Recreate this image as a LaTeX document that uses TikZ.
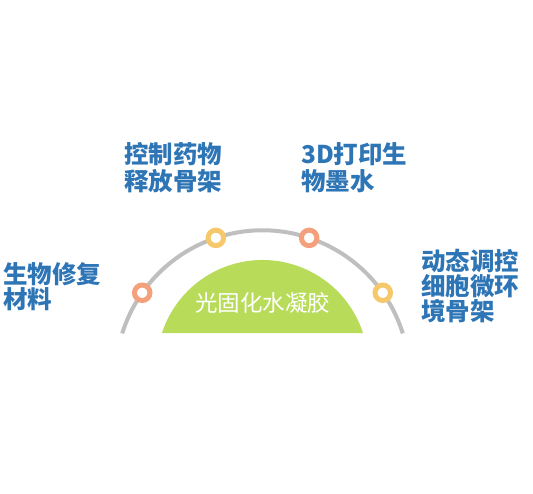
\documentclass[tikz,border=0pt]{standalone}
\usepackage{fontspec}
\newfontfamily\cjk{Noto Sans CJK SC}
\usepackage{tikz}
\usetikzlibrary{positioning,calc}
\definecolor{labelblue}{HTML}{2E75B6}
\definecolor{arcgray}{HTML}{BFBFBF}
\definecolor{gelgreen}{HTML}{B8DC5A}
\definecolor{ringorange}{HTML}{F4A07C}
\definecolor{ringyellow}{HTML}{F5C86C}

\begin{document}
\begin{tikzpicture}
			[x=1pt, y=1pt,
			 ring/.style={circle, draw, line width=5pt, fill=white, minimum size=15.5pt, inner sep=0pt},
			 topic/.style={align=left, anchor=north west, inner sep=0pt, text=labelblue, font=\cjk\bfseries\fontsize{24.5}{27}\selectfont},
			 sidetopic/.style={topic, font=\cjk\bfseries\fontsize{24.5}{25}\selectfont},]
			\useasboundingbox (0,0) rectangle (533,494);
			\coordinate (C) at (262.5,116.7);
			\coordinate (G) at (262.5,128.3);

			% gel and arc
			\fill[gelgreen] (G) ++(18:105.7) arc (18:162:105.7) -- cycle;
			\draw[arcgray, line width=4pt] (C) ++(17.4:147) arc (17.4:162.6:147);
			\node[text=white, font=\cjk\fontsize{22.5}{22}\selectfont] (gel) at (262.5,191) {光固化水凝胶};

			% rings on the arc
			\node[ring, draw=ringorange] (R1) at ($(C)+(144.9:147)$) {};
			\node[ring, draw=ringyellow] (R2) at ($(C)+(108.5:147)$) {};
			\node[ring, draw=ringorange] (R3) at ($(C)+(71.5:147)$) {};
			\node[ring, draw=ringyellow] (R4) at ($(C)+(35.1:147)$) {};

			% labels
			\node[sidetopic] (L1) at (3,232) {生物修复\\材料};
			\node[topic] (L2) at (124,352) {控制药物\\释放骨架};
			\node[topic] (L3) at (301,352) {3D打印生\\物墨水};
			\node[sidetopic] (L4) at (421,245) {动态调控\\细胞微环\\境骨架};
\end{tikzpicture}
\end{document}
